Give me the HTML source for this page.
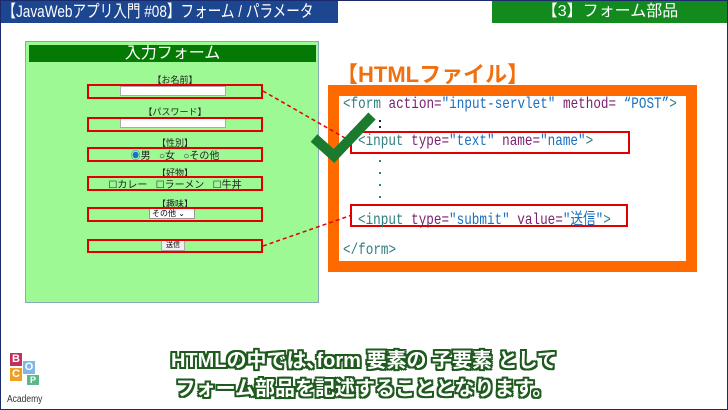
<!DOCTYPE html>
<html><head><meta charset="utf-8">
<style>
*{margin:0;padding:0;box-sizing:border-box}
body{width:728px;height:410px;overflow:hidden;background:#fff;font-family:"Liberation Sans","Noto Sans CJK JP",sans-serif;position:relative}
.frame{position:absolute;left:0;top:0;width:728px;height:410px;border:1px solid #1a2a6a}
.abs{position:absolute}
.rb{position:absolute;border:2px solid #e00000}
.lbl{position:absolute;left:87px;width:176px;text-align:center;font-size:8px;color:#222}
.code{position:absolute;left:343px;font-family:"Liberation Mono","Noto Sans CJK JP",monospace;font-size:16px;white-space:nowrap;transform:scaleX(0.79);transform-origin:left center;color:#2f7f7f}
.a{color:#7a1f6f}.v{color:#1a6fc0}
.dot{position:absolute;left:379px;width:2px;height:2px;background:#2f7f7f}
.big{position:absolute;left:0;width:728px;text-align:center;font-size:20px;font-weight:bold;color:#fff;
text-shadow:-2px -2px 0 #1e5a1e,2px -2px 0 #1e5a1e,-2px 2px 0 #1e5a1e,2px 2px 0 #1e5a1e,0 2px 0 #1e5a1e,0 -2px 0 #1e5a1e,2px 0 0 #1e5a1e,-2px 0 0 #1e5a1e}
.sq{display:inline-block;width:12px;height:13px;color:#fff;font-size:11px;line-height:13px;text-align:center;font-weight:bold}
</style></head><body>
<div class="abs" style="left:0;top:0;width:338px;height:23px;background:#1c4690;overflow:hidden"><div style="color:#fff;font-size:17px;line-height:23px;padding-left:3px;white-space:nowrap;transform:scaleX(0.8);transform-origin:left center">【JavaWebアプリ入門 #08】フォーム / パラメータ</div></div>
<div class="abs" style="left:492px;top:0;width:236px;height:23px;background:#128a1e;color:#fff;font-size:16px;line-height:23px;text-align:center">【3】フォーム部品</div>

<div class="abs" style="left:25px;top:41px;width:294px;height:262px;background:#9cf994;border:1px solid #8aa8b8"></div>
<div class="abs" style="left:29px;top:45px;width:287px;height:17px;background:#047a04;color:#fff;font-size:16px;line-height:17px;text-align:center">入力フォーム</div>

<div class="lbl" style="top:73px;font-size:9px">【お名前】</div>
<div class="abs" style="left:120px;top:86px;width:106px;height:10px;background:#fff;border:1px solid #aaa"></div>
<div class="rb" style="left:87px;top:84px;width:176px;height:15px"></div>
<div class="lbl" style="top:105px;font-size:9px">【パスワード】</div>
<div class="abs" style="left:120px;top:118px;width:106px;height:10px;background:#fff;border:1px solid #aaa"></div>
<div class="rb" style="left:87px;top:117px;width:176px;height:15px"></div>
<div class="lbl" style="top:136px;font-size:9px">【性別】</div>
<div class="lbl" style="top:147px;font-size:10px"><span style="color:#1a6fd0">◉</span>男 &nbsp;&nbsp;○女 &nbsp;&nbsp;○その他</div>
<div class="rb" style="left:87px;top:147px;width:176px;height:15px"></div>
<div class="lbl" style="top:166px;font-size:9px">【好物】</div>
<div class="lbl" style="top:176px;font-size:10px">☐カレー &nbsp;&nbsp;☐ラーメン &nbsp;&nbsp;☐牛丼</div>
<div class="rb" style="left:87px;top:176px;width:176px;height:15px"></div>
<div class="lbl" style="top:197px;font-size:9px">【趣味】</div>
<div class="abs" style="left:149px;top:208px;width:46px;height:11px;background:#fff;border:1px solid #999;font-size:8px;line-height:9px;padding-left:2px">その他 ⌄</div>
<div class="rb" style="left:87px;top:207px;width:176px;height:15px"></div>
<div class="abs" style="left:161px;top:240px;width:24px;height:11px;background:#f0f0f0;border:1px solid #aaa;font-size:7px;line-height:9px;text-align:center">送信</div>
<div class="rb" style="left:87px;top:239px;width:176px;height:14px"></div>

<div class="abs" style="left:336px;top:62px;font-size:22px;color:#f07010;font-weight:bold;line-height:26px">【HTMLファイル】</div>
<div class="abs" style="left:328px;top:85px;width:369px;height:187px;border:11px solid #ff6a00;background:#fff"></div>

<div class="code" style="top:95px"><span>&lt;form </span><span class="a">action=</span><span class="v">"input-servlet"</span> <span class="a">method=</span> <span class="v">“POST”</span>&gt;</div>
<div class="dot" style="top:120px;background:#222"></div><div class="dot" style="top:126px;background:#222"></div>
<div class="rb" style="left:350px;top:131px;width:280px;height:23px"></div>
<div class="code" style="top:132px;left:358px">&lt;input <span class="a">type=</span><span class="v">"text"</span> <span class="a">name=</span><span class="v">"name"</span>&gt;</div>
<div class="dot" style="top:160px"></div><div class="dot" style="top:172px"></div><div class="dot" style="top:184px"></div><div class="dot" style="top:196px"></div>
<div class="rb" style="left:350px;top:204px;width:278px;height:23px"></div>
<div class="code" style="top:205px;left:358px">&lt;input <span class="a">type=</span><span class="v">"submit"</span> <span class="a">value=</span><span class="v">"送信"</span>&gt;</div>
<div class="code" style="top:241px">&lt;/form&gt;</div>

<svg class="abs" style="left:0;top:0" width="728" height="410">
<line x1="263" y1="91" x2="352" y2="142" stroke="#e00000" stroke-width="1.5" stroke-dasharray="4,3"/>
<line x1="263" y1="246" x2="352" y2="215" stroke="#e00000" stroke-width="1.5" stroke-dasharray="4,3"/>
<polyline points="314,138 334,156 372,116" fill="none" stroke="#1a7a2e" stroke-width="10"/>
</svg>

<div class="abs" style="left:10px;top:353px;width:34px;height:30px">
<span class="sq abs" style="left:0;top:0;background:#c0305a">B</span>
<span class="sq abs" style="left:13px;top:8px;background:#7fb8e8">O</span>
<span class="sq abs" style="left:0;top:15px;background:#f0a020">C</span>
<span class="sq abs" style="left:17px;top:22px;background:#5ab88a;height:10px;line-height:10px;font-size:9px">P</span></div>
<div class="abs" style="left:7px;top:394px;font-size:10px;color:#333;transform:scaleX(0.85);transform-origin:left">Academy</div>

<div class="big" style="top:344px">HTMLの中では､form 要素の 子要素 として</div>
<div class="big" style="top:372px">フォーム部品を記述することとなります。</div>
<div class="frame"></div>
</body></html>
